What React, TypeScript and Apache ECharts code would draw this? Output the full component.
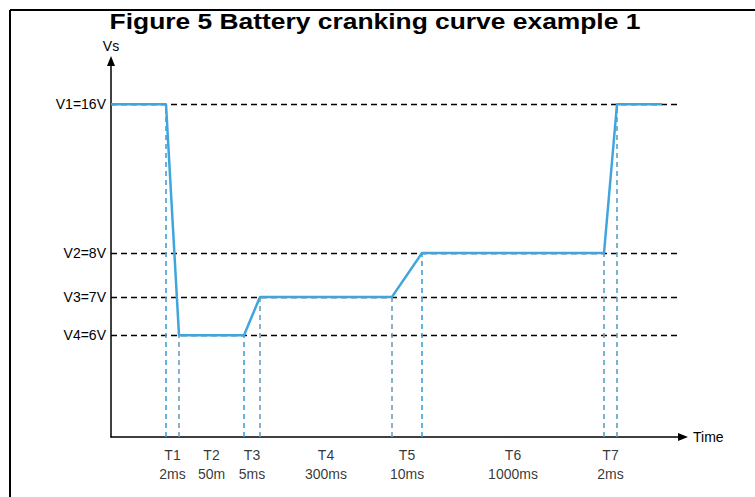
import React, { useEffect, useRef } from "react";
import * as echarts from "echarts";

// ---- data (schematic diagram units) ----
const titleText = "Figure 5 Battery cranking curve example 1";
const phaseNames = ["T1", "T2", "T3", "T4", "T5", "T6", "T7"];
const phaseDurations = ["2ms", "50m", "5ms", "300ms", "10ms", "1000ms", "2ms"];
const leadIn = 55; // schematic width before T1
const phaseWidths = [13, 65, 16, 132, 30, 182, 13]; // schematic widths (not to time scale)
const tail = 45; // schematic width after T7
const levelNames = ["V1=16V", "V2=8V", "V3=7V", "V4=6V"];
const levelVolts = [16, 8, 7, 6];
const levelHeights = [100, 55.3, 42.1, 30.6]; // schematic heights of the levels
const startLevel = 0; // waveform starts at V1
const phaseEndLevel = [3, 3, 2, 2, 1, 1, 0]; // level index at end of each phase
const boundaryStyle = ["blue", "grey", "blue", "grey", "grey", "blue", "mid", "mid"];
const dashedEnd = 569;
const xMax = 572;
const yMax = 113;

const FONT = "Liberation Sans, Arial, sans-serif";

export default function App() {
  const ref = useRef<HTMLDivElement>(null);
  useEffect(() => {
    if (!ref.current) return;
    const chart = echarts.init(ref.current, null, { renderer: "svg" });

    const bx: number[] = [leadIn];
    phaseWidths.forEach((w, i) => bx.push(bx[i] + w));
    const bLevel: number[] = [startLevel, ...phaseEndLevel];
    const wave: number[][] = [[0, levelHeights[startLevel]]];
    bx.forEach((x, i) => wave.push([x, levelHeights[bLevel[i]]]));
    wave.push([bx[bx.length - 1] + tail, levelHeights[bLevel[bLevel.length - 1]]]);

    const colorMap: Record<string, string> = {
      blue: "#3fa2da",
      grey: "#6b9fc0",
      mid: "#5aa0c8",
    };

    const vLines = bx.map((x, i) => [
      { coord: [x, 0], lineStyle: { color: colorMap[boundaryStyle[i]] } },
      { coord: [x, levelHeights[bLevel[i]]] },
    ]);
    const hLines = levelHeights.map((h, i) => [
      { coord: [0, h], name: levelNames[i], value: levelVolts[i] },
      { coord: [dashedEnd, h] },
    ]);
    const phaseMid = phaseNames.map((n, i) => ({
      value: [(bx[i] + bx[i + 1]) / 2, 0],
      name: n,
      dur: phaseDurations[i],
    }));

    chart.setOption({
      animation: false,
      graphic: [
        { type: "line", shape: { x1: 10, y1: 10, x2: 755, y2: 10 }, style: { stroke: "#000", lineWidth: 2 } },
        { type: "line", shape: { x1: 10, y1: 10, x2: 10, y2: 497 }, style: { stroke: "#000", lineWidth: 2 } },
        {
          type: "text",
          x: 375,
          y: 21,
          scaleX: 1.2,
          z: 10,
          style: {
            text: titleText,
            fontSize: 22,
            fontWeight: "bold",
            fontFamily: FONT,
            fill: "#000",
            textAlign: "center",
            textVerticalAlign: "middle",
          },
        },
      ],
      grid: { left: 111, right: 72, top: 61, bottom: 60 },
      xAxis: {
        type: "value",
        min: 0,
        max: xMax,
        name: "Time",
        nameLocation: "end",
        nameGap: 10,
        nameTextStyle: { fontSize: 14, fontFamily: FONT, color: "#000", align: "left", verticalAlign: "middle" },
        axisLine: { show: true, symbol: ["none", "triangle"], symbolSize: [8, 10], lineStyle: { color: "#000", width: 1.5 } },
        axisTick: { show: false },
        axisLabel: { show: false },
        splitLine: { show: false },
      },
      yAxis: {
        type: "value",
        min: 0,
        max: yMax,
        name: "Vs",
        nameLocation: "end",
        nameGap: 8,
        nameTextStyle: { fontSize: 14, fontFamily: FONT, color: "#000" },
        axisLine: { show: true, symbol: ["none", "triangle"], symbolSize: [8, 10], lineStyle: { color: "#000", width: 1.5 } },
        axisTick: { show: false },
        axisLabel: { show: false },
        splitLine: { show: false },
      },
      series: [
        {
          type: "line",
          z: 1,
          data: [],
          markLine: {
            silent: true,
            symbol: ["none", "none"],
            lineStyle: { color: "#000", type: [6, 4], width: 1.4 },
            label: {
              show: true,
              position: "start",
              distance: 5,
              formatter: (p: any) => p.name,
              fontSize: 14,
              fontFamily: FONT,
              color: "#000",
            },
            data: hLines,
          },
        },
        {
          type: "line",
          z: 2,
          data: [],
          markLine: {
            silent: true,
            symbol: ["none", "none"],
            lineStyle: { type: [5, 4], width: 1.6 },
            label: { show: false },
            data: vLines,
          },
        },
        {
          type: "line",
          z: 5,
          data: wave,
          showSymbol: false,
          symbol: "none",
          lineStyle: { color: "#41a5dd", width: 2.5 },
        },
        {
          type: "scatter",
          data: phaseMid,
          symbolSize: 0,
          label: {
            show: true,
            position: "bottom",
            distance: 8,
            formatter: (p: any) => `${p.data.name}\n${p.data.dur}`,
            fontSize: 14,
            lineHeight: 19,
            fontFamily: FONT,
            color: "#000",
            align: "center",
          },
        },
      ],
    });
    return () => chart.dispose();
  }, []);
  return (
    <div
      ref={ref}
      style={{ position: "fixed", left: 0, top: 0, width: 755, height: 497, background: "#fff" }}
    />
  );
}
